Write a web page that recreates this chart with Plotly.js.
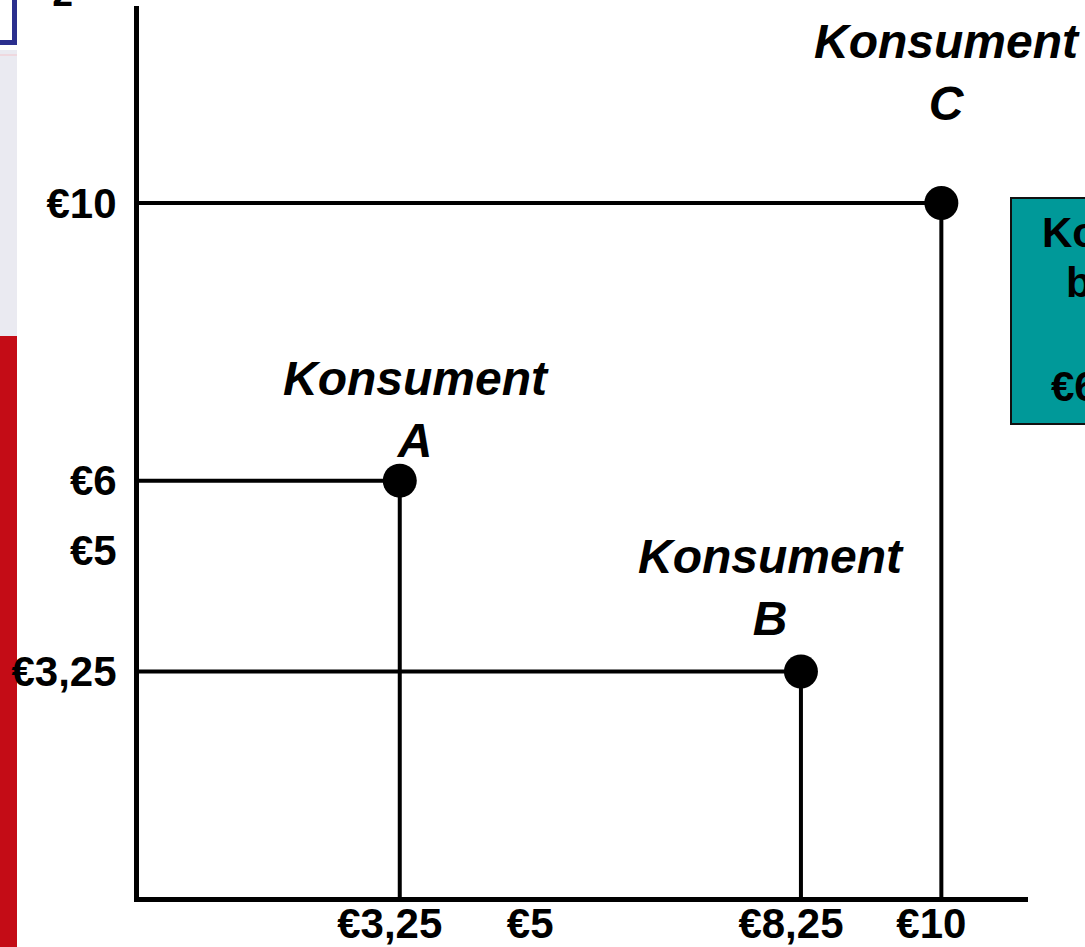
<!DOCTYPE html>
<html>
<head>
<meta charset="utf-8">
<script src="https://cdn.plot.ly/plotly-3.0.1.min.js"></script>
<style>html,body{margin:0;padding:0;background:#fff;}#chart{width:1085px;height:947px;}</style>
</head>
<body>
<div id="chart"></div>
<script>
const consumers = ["A", "B", "C"];
const xValues = [3.25, 8.25, 10];
const yValues = [6, 3.25, 10];
const xTickVals = [3.25, 5, 8.25, 10];
const xTickText = ["€3,25", "€5", "€8,25", "€10"];
const yTickVals = [3.25, 5, 6, 10];
const yTickText = ["€3,25", "€5", "€6", "€10"];
const consumerWord = "Konsument";

const labelShift = {A: [16, 12], B: [-30, 24], C: [6, 71]};

const traces = [];
consumers.forEach((c, i) => {
  traces.push({
    type: "scatter", mode: "lines",
    x: [0, xValues[i], xValues[i]],
    y: [yValues[i], yValues[i], 0],
    line: {color: "#000", width: 4},
    hoverinfo: "skip", showlegend: false, cliponaxis: false
  });
});
traces.push({
  type: "scatter", mode: "markers",
  x: xValues, y: yValues, text: consumers,
  marker: {color: "#000", size: 34},
  showlegend: false, cliponaxis: false
});

const annotations = consumers.map((c, i) => ({
  x: xValues[i], y: yValues[i], xref: "x", yref: "y",
  text: "<b><i>" + consumerWord + "<br>" + c + "</i></b>",
  showarrow: false, xanchor: "center", yanchor: "bottom",
  xshift: labelShift[c][0], yshift: labelShift[c][1],
  font: {family: "Liberation Sans, Arial, sans-serif", size: 48, color: "#000"},
  align: "center"
}));

// side decorations (cropped slide elements)
const ML = 139, MR = 57, MT = 6, MB = 50;
const PW = 1085 - ML - MR, PH = 947 - MT - MB;
const px = v => (v - ML) / PW;
const py = v => (947 - MB - v) / PH;
const boxFont = {family: "Liberation Sans, Arial, sans-serif", size: 42, color: "#000"};
annotations.push(
  {xref: "paper", yref: "paper", x: px(1040), y: py(207), xanchor: "left", yanchor: "top", text: "<b>Konsument</b>", showarrow: false, font: boxFont},
  {xref: "paper", yref: "paper", x: px(1064), y: py(257), xanchor: "left", yanchor: "top", text: "<b>betalar</b>", showarrow: false, font: boxFont},
  {xref: "paper", yref: "paper", x: px(1049), y: py(361), xanchor: "left", yanchor: "top", text: "<b>€6</b>", showarrow: false, font: boxFont},
  {xref: "paper", yref: "paper", x: px(50), y: py(17), xanchor: "left", yanchor: "bottom", text: "<b>z</b>", showarrow: false, font: boxFont}
);

const shapes = [
  {type: "rect", xref: "paper", yref: "paper", x0: px(0), x1: px(17), y0: py(336), y1: py(947), fillcolor: "#C40C16", line: {width: 0}, layer: "below"},
  {type: "rect", xref: "paper", yref: "paper", x0: px(0), x1: px(17), y0: py(50), y1: py(336), fillcolor: "#EAEAF1", line: {width: 0}, layer: "below"},
  {type: "line", xref: "paper", yref: "paper", x0: px(0), x1: px(17), y0: py(55), y1: py(55), line: {color: "#F3C6CC", width: 1}, layer: "below"},
  {type: "rect", xref: "paper", yref: "paper", x0: px(-10), x1: px(14.5), y0: py(-10), y1: py(42.5), fillcolor: "#FFFFFF", line: {color: "#2B2F8E", width: 5}, layer: "below"},
  {type: "rect", xref: "paper", yref: "paper", x0: px(1011), x1: px(1100), y0: py(198), y1: py(424), fillcolor: "#009999", line: {color: "#111", width: 2}, layer: "below"}
];

const tickFont = {family: "Liberation Sans, Arial, sans-serif", size: 42, color: "#000", weight: "bold"};

const layout = {
  width: 1085, height: 947,
  margin: {l: ML, r: MR, t: MT, b: MB, pad: 0},
  paper_bgcolor: "#fff", plot_bgcolor: "#fff",
  showlegend: false,
  xaxis: {
    range: [0, 11.08], showgrid: false, zeroline: false,
    showline: true, linecolor: "#000", linewidth: 5,
    tickmode: "array", tickvals: xTickVals, ticktext: xTickText,
    ticks: "", tickfont: tickFont, ticklabelshift: -10, ticklabelstandoff: -14,
    fixedrange: true
  },
  yaxis: {
    range: [0, 12.84], showgrid: false, zeroline: false,
    showline: true, linecolor: "#000", linewidth: 5,
    tickmode: "array", tickvals: yTickVals, ticktext: yTickText,
    ticks: "", tickfont: tickFont, ticklabelstandoff: 9,
    fixedrange: true
  },
  annotations: annotations,
  shapes: shapes
};

Plotly.newPlot("chart", traces, layout, {displayModeBar: false, staticPlot: true});
</script>
</body>
</html>
